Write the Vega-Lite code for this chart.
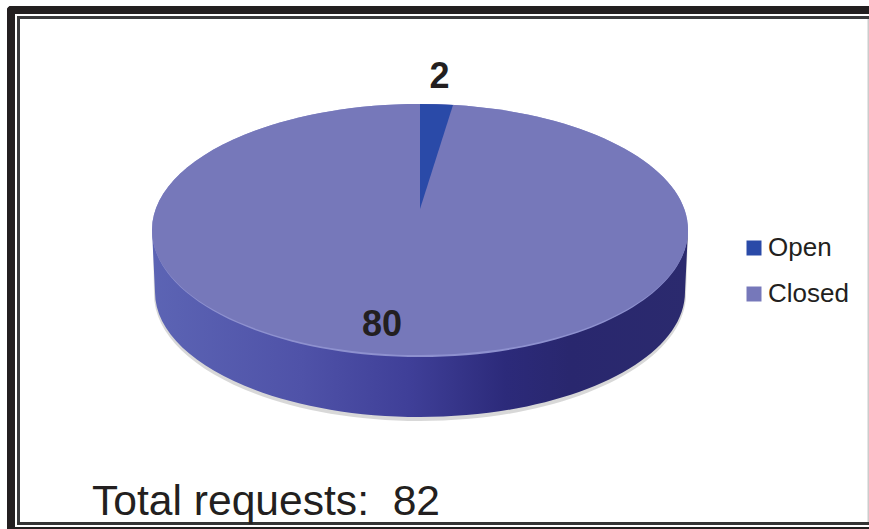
{"$schema":"https://vega.github.io/schema/vega-lite/v6.json","width":869,"height":529,"autosize":{"type":"fit","contains":"padding"},"padding":0,"background":"white","config":{"view":{"stroke":null},"axis":{"disable":true},"text":{"font":"Liberation Sans","color":"#231f20"}},"data":{"values":[{"status":"Open","requests":2},{"status":"Closed","requests":80}]},"layer":[
{"data":{"values":[{"part":"frame"}]},"mark":{"type":"rect","color":"#231f20","cornerRadiusTopLeft":5},"encoding":{"x":{"datum":7,"type":"quantitative","scale":{"domain":[0,869]}},"x2":{"datum":15},"y":{"datum":6,"type":"quantitative","scale":{"domain":[0,529],"reverse":true}},"y2":{"datum":529}}},
{"data":{"values":[{"part":"frame"}]},"mark":{"type":"rect","color":"#231f20","cornerRadiusTopLeft":5},"encoding":{"x":{"datum":7,"type":"quantitative","scale":{"domain":[0,869]}},"x2":{"datum":869},"y":{"datum":6,"type":"quantitative","scale":{"domain":[0,529],"reverse":true}},"y2":{"datum":14}}},
{"data":{"values":[{"part":"frame"}]},"mark":{"type":"rect","color":"#231f20"},"encoding":{"x":{"datum":7,"type":"quantitative","scale":{"domain":[0,869]}},"x2":{"datum":869},"y":{"datum":527,"type":"quantitative","scale":{"domain":[0,529],"reverse":true}},"y2":{"datum":529}}},
{"data":{"values":[{"part":"frame"}]},"mark":{"type":"rect","color":"#3a3a3c"},"encoding":{"x":{"datum":17,"type":"quantitative","scale":{"domain":[0,869]}},"x2":{"datum":869},"y":{"datum":16,"type":"quantitative","scale":{"domain":[0,529],"reverse":true}},"y2":{"datum":19}}},
{"data":{"values":[{"part":"frame"}]},"mark":{"type":"rect","color":"#3a3a3c"},"encoding":{"x":{"datum":17,"type":"quantitative","scale":{"domain":[0,869]}},"x2":{"datum":20},"y":{"datum":16,"type":"quantitative","scale":{"domain":[0,529],"reverse":true}},"y2":{"datum":525}}},
{"data":{"values":[{"part":"frame"}]},"mark":{"type":"rect","color":"#333333"},"encoding":{"x":{"datum":17,"type":"quantitative","scale":{"domain":[0,869]}},"x2":{"datum":869},"y":{"datum":522,"type":"quantitative","scale":{"domain":[0,529],"reverse":true}},"y2":{"datum":525}}},
{"data":{"values":[{"part":"frame"}]},"mark":{"type":"rect","color":"#cccccc"},"encoding":{"x":{"datum":867.5,"type":"quantitative","scale":{"domain":[0,869]}},"x2":{"datum":869},"y":{"datum":19,"type":"quantitative","scale":{"domain":[0,529],"reverse":true}},"y2":{"datum":522}}},
{"data":{"values":[{"part":"shadow"}]},"mark":{"type":"point","filled":true,"opacity":0.45,"size":4,"color":"#a9a9a9","shape":"M-267,0L-266,62A266,127 0 0 0 266,62L268,0Z"},"encoding":{"x":{"datum":420,"type":"quantitative","scale":{"domain":[0,869]}},"y":{"datum":232,"type":"quantitative","scale":{"domain":[0,529],"reverse":true}}}},
{"data":{"values":[{"part":"side"}]},"mark":{"type":"point","filled":true,"opacity":1,"size":4,"shape":"M-268,0L-265,62A265,125 0 0 0 265,62L268,0Z","fill":{"gradient":"linear","x1":0,"y1":0,"x2":1,"y2":0,"stops":[{"offset":0,"color":"#5c64b4"},{"offset":0.28,"color":"#4f52a8"},{"offset":0.48,"color":"#3f3f98"},{"offset":0.66,"color":"#2c2a7a"},{"offset":0.78,"color":"#29276e"},{"offset":1,"color":"#2b2a6e"}]}},"encoding":{"x":{"datum":420,"type":"quantitative","scale":{"domain":[0,869]}},"y":{"datum":230,"type":"quantitative","scale":{"domain":[0,529],"reverse":true}}}},
{"data":{"values":[{"part":"rim"}]},"mark":{"type":"point","filled":true,"opacity":1,"size":4,"color":"#8e91cf","shape":"M-268,0A268,127 0 0 0 0,127A268,127 0 0 0 268,0A268,126 0 0 0 -268,0Z"},"encoding":{"x":{"datum":420,"type":"quantitative","scale":{"domain":[0,869]}},"y":{"datum":230,"type":"quantitative","scale":{"domain":[0,529],"reverse":true}}}},
{"transform":[{"filter":"datum.status === 'Closed'"}],"mark":{"type":"point","filled":true,"opacity":1,"size":4,"shape":"M-268,0A268,126 0 1 1 268,0A268,125 0 1 1 -268,0Z"},"encoding":{"x":{"datum":420,"type":"quantitative","scale":{"domain":[0,869]}},"y":{"datum":230,"type":"quantitative","scale":{"domain":[0,529],"reverse":true}},"color":{"field":"status","type":"nominal","scale":{"domain":["Open","Closed"],"range":["#2a4aa8","#7678ba"]},"legend":{"title":null,"orient":"none","legendX":741,"legendY":235,"symbolType":"square","symbolSize":225,"symbolStrokeWidth":0,"labelFont":"Liberation Sans","labelFontSize":26,"labelColor":"#231f20","labelLimit":200,"rowPadding":20,"labelOffset":1,"padding":0}}}},
{"transform":[{"filter":"datum.status === 'Open'"}],"mark":{"type":"point","filled":true,"opacity":1,"size":4,"shape":"M0,-126A268,126 0 0 1 33,-125L0,-21Z"},"encoding":{"x":{"datum":420,"type":"quantitative","scale":{"domain":[0,869]}},"y":{"datum":230,"type":"quantitative","scale":{"domain":[0,529],"reverse":true}},"color":{"field":"status","type":"nominal","scale":{"domain":["Open","Closed"],"range":["#2a4aa8","#7678ba"]}}}},
{"transform":[{"filter":"datum.status === 'Open'"}],"mark":{"type":"text","fontWeight":"bold","fontSize":36,"align":"center","baseline":"alphabetic"},"encoding":{"text":{"field":"requests","type":"quantitative"},"x":{"datum":439.5,"type":"quantitative","scale":{"domain":[0,869]}},"y":{"datum":88,"type":"quantitative","scale":{"domain":[0,529],"reverse":true}}}},
{"transform":[{"filter":"datum.status === 'Closed'"}],"mark":{"type":"text","fontWeight":"bold","fontSize":36,"align":"center","baseline":"alphabetic"},"encoding":{"text":{"field":"requests","type":"quantitative"},"x":{"datum":382,"type":"quantitative","scale":{"domain":[0,869]}},"y":{"datum":336,"type":"quantitative","scale":{"domain":[0,529],"reverse":true}}}},
{"data":{"values":[{"label":"Total requests: \u00a082"}]},"mark":{"type":"text","fontSize":42.6,"align":"left","baseline":"alphabetic"},"encoding":{"text":{"field":"label","type":"nominal"},"x":{"datum":92,"type":"quantitative","scale":{"domain":[0,869]}},"y":{"datum":515,"type":"quantitative","scale":{"domain":[0,529],"reverse":true}}}}
]}
